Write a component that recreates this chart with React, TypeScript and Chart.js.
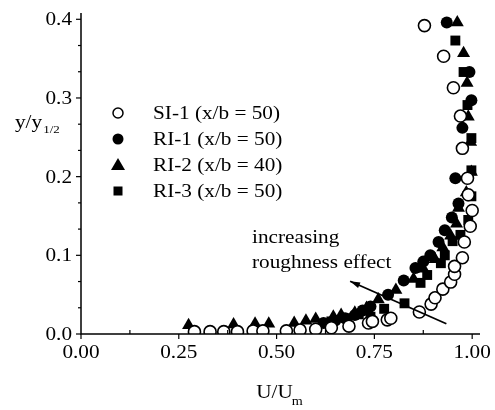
import React, { useEffect, useRef } from 'react';
import { Chart, registerables } from 'chart.js';

Chart.register(...registerables);

// ---- data ----
const si1X = [0.29, 0.33, 0.365, 0.4, 0.44, 0.465, 0.525, 0.56, 0.6, 0.64, 0.685, 0.735, 0.745, 0.783, 0.792, 0.865, 0.895, 0.905, 0.925, 0.945, 0.955, 0.955, 0.975, 0.98, 0.995, 1.0, 0.99, 0.988, 0.975, 0.97, 0.952, 0.927, 0.878];
const si1Y = [0.003, 0.003, 0.003, 0.003, 0.004, 0.004, 0.004, 0.005, 0.006, 0.008, 0.01, 0.014, 0.016, 0.018, 0.02, 0.028, 0.038, 0.046, 0.057, 0.066, 0.076, 0.086, 0.097, 0.117, 0.137, 0.157, 0.177, 0.198, 0.236, 0.277, 0.313, 0.353, 0.392];

const ri1X = [0.62, 0.65, 0.675, 0.7, 0.72, 0.74, 0.785, 0.825, 0.855, 0.875, 0.893, 0.914, 0.93, 0.948, 0.965, 0.957, 0.975, 0.998, 0.993, 0.935];
const ri1Y = [0.014, 0.017, 0.02, 0.024, 0.03, 0.035, 0.05, 0.068, 0.084, 0.092, 0.1, 0.117, 0.132, 0.148, 0.166, 0.198, 0.262, 0.297, 0.333, 0.396];

const ri2X = [0.275, 0.39, 0.445, 0.48, 0.545, 0.575, 0.6, 0.645, 0.665, 0.7, 0.73, 0.76, 0.805, 0.85, 0.875, 0.905, 0.925, 0.945, 0.96, 0.965, 0.985, 0.998, 0.996, 0.99, 0.987, 0.978, 0.962];
const ri2Y = [0.011, 0.012, 0.013, 0.013, 0.014, 0.017, 0.019, 0.022, 0.024, 0.027, 0.033, 0.044, 0.056, 0.07, 0.083, 0.095, 0.11, 0.125, 0.14, 0.16, 0.18, 0.206, 0.244, 0.276, 0.319, 0.357, 0.396];

const ri3X = [0.64, 0.68, 0.71, 0.74, 0.775, 0.827, 0.868, 0.885, 0.92, 0.93, 0.95, 0.97, 0.99, 0.998, 0.998, 0.998, 0.988, 0.978, 0.957];
const ri3Y = [0.016, 0.02, 0.025, 0.022, 0.032, 0.039, 0.065, 0.075, 0.09, 0.1, 0.118, 0.126, 0.145, 0.175, 0.208, 0.249, 0.291, 0.333, 0.373];

const seriesLabels = ['SI-1 (x/b = 50)', 'RI-1 (x/b = 50)', 'RI-2 (x/b = 40)', 'RI-3 (x/b = 50)'];
const xTicks = [0, 0.25, 0.5, 0.75, 1.0];
const xTickLabels = ['0.00', '0.25', '0.50', '0.75', '1.00'];
const yTicks = [0, 0.1, 0.2, 0.3, 0.4];
const yTickLabels = ['0.0', '0.1', '0.2', '0.3', '0.4'];
const annotationLines = ['increasing', 'roughness effect'];
const arrowFrom = [0.934, 0.013];
const arrowTo = [0.688, 0.067];

const FONT = '"Liberation Serif", "Times New Roman", serif';
const SX = 1.18;

function drawText(ctx: CanvasRenderingContext2D, s: string, x: number, y: number, size: number, align: string = 'left') {
  ctx.save();
  ctx.font = `${size}px ${FONT}`;
  const w = ctx.measureText(s).width * SX;
  let x0 = x;
  if (align === 'center') x0 = x - w / 2;
  else if (align === 'right') x0 = x - w;
  ctx.translate(x0, y);
  ctx.scale(SX, 1);
  ctx.textAlign = 'left';
  ctx.textBaseline = 'alphabetic';
  ctx.fillStyle = '#000';
  ctx.fillText(s, 0, 0);
  ctx.restore();
  return w;
}

function textWidth(ctx: CanvasRenderingContext2D, s: string, size: number) {
  ctx.save();
  ctx.font = `${size}px ${FONT}`;
  const w = ctx.measureText(s).width * SX;
  ctx.restore();
  return w;
}

const toXY = (xs: number[], ys: number[]) => xs.map((x, i) => ({ x, y: ys[i] }));

const decorPlugin = {
  id: 'decor',
  afterDraw(chart: any) {
    const ctx: CanvasRenderingContext2D = chart.ctx;
    const xs = chart.scales.x;
    const ys = chart.scales.y;
    const { left, right, top, bottom } = chart.chartArea;
    ctx.save();
    ctx.strokeStyle = '#000';
    ctx.lineWidth = 1.5;
    // axis lines
    ctx.beginPath();
    ctx.moveTo(left, top);
    ctx.lineTo(left, bottom);
    ctx.lineTo(right, bottom);
    ctx.stroke();
    // y ticks
    ctx.lineWidth = 1.2;
    for (let i = 0; i <= 12; i++) {
      const v = i / 30;
      const py = ys.getPixelForValue(v);
      const major = i % 3 === 0;
      ctx.beginPath();
      ctx.moveTo(left - (major ? 5 : 3), py);
      ctx.lineTo(left, py);
      ctx.stroke();
    }
    // x ticks
    for (let i = 0; i <= 8; i++) {
      const v = i * 0.125;
      const px = xs.getPixelForValue(v);
      const major = i % 2 === 0;
      ctx.beginPath();
      if (major) {
        ctx.moveTo(px, bottom);
        ctx.lineTo(px, bottom + 5);
      } else {
        ctx.moveTo(px, bottom);
        ctx.lineTo(px, bottom - 4);
      }
      ctx.stroke();
    }
    // tick labels
    yTicks.forEach((v, i) => {
      drawText(ctx, yTickLabels[i], left - 9, ys.getPixelForValue(v) + 6, 18, 'right');
    });
    xTicks.forEach((v, i) => {
      drawText(ctx, xTickLabels[i], xs.getPixelForValue(v), bottom + 24, 18, 'center');
    });
    // x title U/U_m
    {
      const main = 'U/U';
      const wMain = textWidth(ctx, main, 18);
      const wSub = textWidth(ctx, 'm', 12);
      const total = wMain + wSub;
      const cx = 280;
      const x0 = cx - total / 2;
      drawText(ctx, main, x0, 398, 18);
      drawText(ctx, 'm', x0 + wMain - 1, 405, 12);
    }
    // y title y/y_1/2
    {
      const w = drawText(ctx, 'y/y', 15, 128, 18);
      drawText(ctx, '1/2', 15 + w + 1, 133, 11);
    }
    // legend
    const legendX = 118;
    const legendText = 153;
    const rows = [113, 139, 165, 191];
    rows.forEach((ry, i) => {
      ctx.save();
      ctx.fillStyle = '#000';
      ctx.strokeStyle = '#000';
      ctx.lineWidth = 1.5;
      if (i === 0) {
        ctx.beginPath();
        ctx.arc(legendX, ry, 5, 0, Math.PI * 2);
        ctx.fillStyle = '#fff';
        ctx.fill();
        ctx.stroke();
      } else if (i === 1) {
        ctx.beginPath();
        ctx.arc(legendX, ry, 5.5, 0, Math.PI * 2);
        ctx.fill();
      } else if (i === 2) {
        ctx.beginPath();
        ctx.moveTo(legendX, ry - 7);
        ctx.lineTo(legendX + 7, ry + 5);
        ctx.lineTo(legendX - 7, ry + 5);
        ctx.closePath();
        ctx.fill();
      } else {
        ctx.fillRect(legendX - 4.5, ry - 4.5, 9, 9);
      }
      ctx.restore();
      drawText(ctx, seriesLabels[i], legendText, ry + 6, 18);
    });
    // annotation
    drawText(ctx, annotationLines[0], 252, 243, 18);
    drawText(ctx, annotationLines[1], 252, 268, 18);
    const ax0 = xs.getPixelForValue(arrowFrom[0]);
    const ay0 = ys.getPixelForValue(arrowFrom[1]);
    const ax1 = xs.getPixelForValue(arrowTo[0]);
    const ay1 = ys.getPixelForValue(arrowTo[1]);
    ctx.lineWidth = 1.8;
    ctx.beginPath();
    ctx.moveTo(ax0, ay0);
    ctx.lineTo(ax1, ay1);
    ctx.stroke();
    const ang = Math.atan2(ay1 - ay0, ax1 - ax0);
    const hl = 10;
    const hw = 3;
    ctx.beginPath();
    ctx.moveTo(ax1, ay1);
    ctx.lineTo(ax1 - hl * Math.cos(ang) + hw * Math.sin(ang), ay1 - hl * Math.sin(ang) - hw * Math.cos(ang));
    ctx.lineTo(ax1 - hl * Math.cos(ang) - hw * Math.sin(ang), ay1 - hl * Math.sin(ang) + hw * Math.cos(ang));
    ctx.closePath();
    ctx.fillStyle = '#000';
    ctx.fill();
    ctx.restore();
  },
};

export default function App() {
  const ref = useRef<HTMLCanvasElement>(null);
  useEffect(() => {
    if (!ref.current) return;
    const chart = new Chart(ref.current, {
      type: 'scatter',
      data: {
        datasets: [
          {
            label: seriesLabels[0],
            data: toXY(si1X, si1Y),
            pointStyle: 'circle',
            pointRadius: 6,
            backgroundColor: '#fff',
            borderColor: '#000',
            borderWidth: 1.6,
            order: 0,
          },
          {
            label: seriesLabels[1],
            data: toXY(ri1X, ri1Y),
            pointStyle: 'circle',
            pointRadius: 6,
            backgroundColor: '#000',
            borderColor: '#000',
            borderWidth: 0,
            order: 1,
          },
          {
            label: seriesLabels[2],
            data: toXY(ri2X, ri2Y),
            pointStyle: 'triangle',
            pointRadius: 7.5,
            backgroundColor: '#000',
            borderColor: '#000',
            borderWidth: 0,
            order: 2,
          },
          {
            label: seriesLabels[3],
            data: toXY(ri3X, ri3Y),
            pointStyle: 'rect',
            pointRadius: 7,
            backgroundColor: '#000',
            borderColor: '#000',
            borderWidth: 0,
            order: 3,
          },
        ],
      },
      options: {
        responsive: false,
        animation: false,
        layout: { padding: { left: 81, top: 13, right: 15, bottom: 76 } },
        plugins: { legend: { display: false }, tooltip: { enabled: false } },
        scales: {
          x: { type: 'linear', min: 0, max: 1.02, display: false },
          y: { type: 'linear', min: 0, max: 0.408, display: false },
        },
      },
      plugins: [decorPlugin],
    });
    return () => chart.destroy();
  }, []);
  return (
    <div style={{ position: 'absolute', left: 0, top: 0, width: 495, height: 410, background: '#fff' }}>
      <canvas ref={ref} width={495} height={410} style={{ width: 495, height: 410, display: 'block' }} />
    </div>
  );
}
